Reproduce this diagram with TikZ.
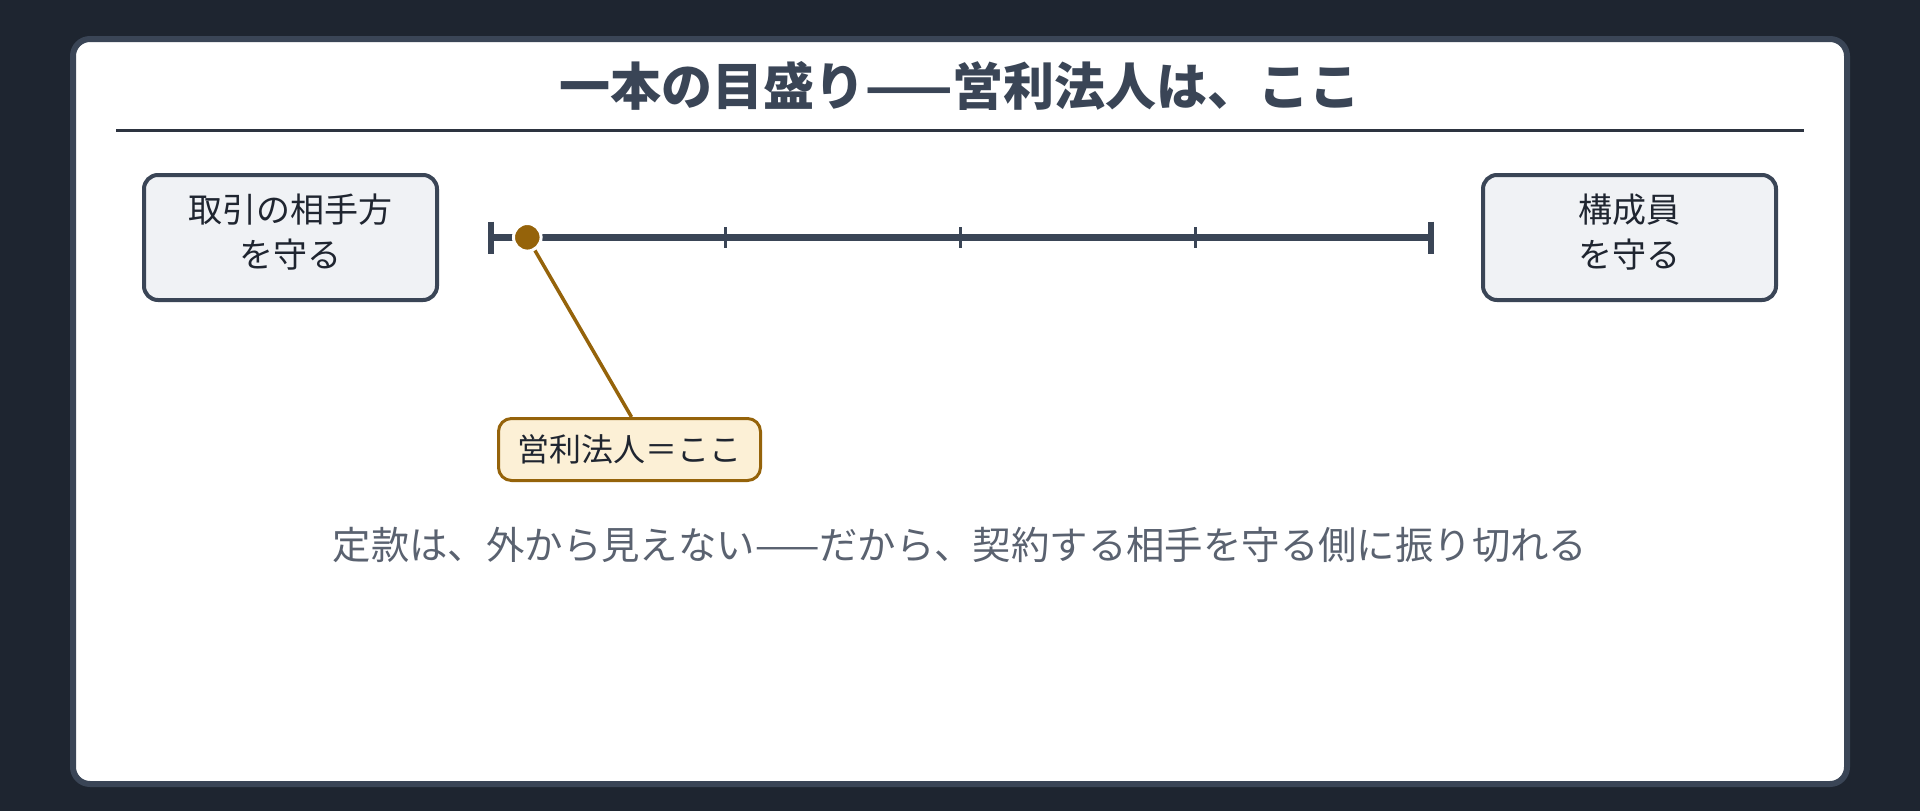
\documentclass[tikz,border=0pt]{standalone}
\usepackage{fontspec}
\setmainfont{Noto Sans CJK JP}
\usetikzlibrary{positioning,calc}
\definecolor{bgc}{HTML}{1E2530}
\definecolor{cardline}{HTML}{3A4556}
\definecolor{rulec}{HTML}{2D3440}
\definecolor{boxfill}{HTML}{F0F2F5}
\definecolor{inkc}{HTML}{1F2530}
\definecolor{goldc}{HTML}{95630A}
\definecolor{labfill}{HTML}{FCF0D6}
\definecolor{subc}{HTML}{5A6270}
\tikzset{
  endbox/.style={draw=cardline, fill=boxfill, line width=4pt, rounded corners=14pt,
    minimum width=293pt, minimum height=125pt, inner sep=0pt},
  boxtext/.style={align=center, text=inkc, inner sep=0pt,
    font=\fontsize{34}{45}\selectfont},
  labbox/.style={draw=goldc, fill=labfill, line width=3pt, rounded corners=13pt,
    minimum width=262pt, minimum height=62pt, text=inkc, inner sep=0pt,
    font=\fontsize{32}{36}\selectfont},
  scaleline/.style={draw=cardline, line width=7pt},
  endtick/.style={draw=cardline, line width=6pt},
  midtick/.style={draw=cardline, line width=3pt},
  dotc/.style={circle, fill=goldc, draw=white, line width=3pt, minimum size=27.6pt, inner sep=0pt},
  leader/.style={draw=goldc, line width=3.5pt},
}
\begin{document}
\begin{tikzpicture}[x=1pt,y=-1pt]
\useasboundingbox (0,0) rectangle (1920,811);
\fill[bgc] (0,0) rectangle (1920,811);
% card
\draw[cardline, fill=white, line width=6pt, rounded corners=17pt] (73,39) rectangle (1847,784);
% title
\node[font=\fontsize{51}{56}\selectfont\bfseries, text=cardline, inner sep=0pt] (title) at (960,86) {一本の目盛り——営利法人は、ここ};
\coordinate (ruleL) at (116,130);
\coordinate (ruleR) at (1804,130);
\draw[rulec, line width=3pt] (ruleL) -- (ruleR);
% end boxes
\node[endbox] (left) at (290.5,237.5) {};
\node[boxtext] (lefttext) at ($(left.center)+(0,-5)$) {取引の相手方\\を守る};
\node[endbox] (right) at (1629.5,237.5) {};
\node[boxtext] (righttext) at ($(right.center)+(0,-5)$) {構成員\\を守る};
% scale
\coordinate (s0) at (490.7,237.5);
\coordinate (s4) at (1431,237.5);
\draw[scaleline] (s0) -- (s4);
\foreach \f in {0.25,0.5,0.75}{
  \draw[midtick] ($(s0)!\f!(s4)+(0,-10.5)$) -- ($(s0)!\f!(s4)+(0,10.5)$);
}
\draw[endtick] ($(s0)+(0,-16)$) -- ($(s0)+(0,16)$);
\draw[endtick] ($(s4)+(0,-16)$) -- ($(s4)+(0,16)$);
% label and leader
\node[labbox] (lab) at (629.5,449.5) {営利法人＝ここ};
\coordinate (dotpos) at (527.3,237.3);
\draw[leader] (dotpos) -- ($(lab.north)+(2,0)$);
\node[dotc] (dot) at (dotpos) {};
% caption
\node[font=\fontsize{38.4}{44}\selectfont, text=subc, inner sep=0pt] (cap) at (960,545) {定款は、外から見えない——だから、契約する相手を守る側に振り切れる};
\end{tikzpicture}
\end{document}
